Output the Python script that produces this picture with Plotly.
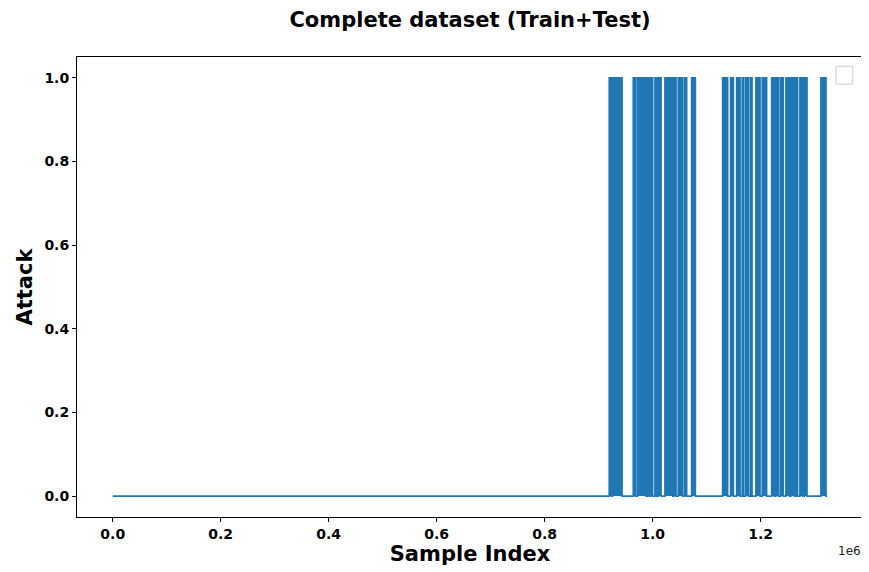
import plotly.graph_objects as go

# Attack intervals (sample index, start/end where Attack == 1)
attack_starts = [919600, 925900, 964100, 971500, 990700, 996300, 1004300, 1010400,
                 1022800, 1039400, 1047400, 1059300, 1072200,
                 1129600, 1144400, 1155600, 1165900, 1172200, 1181500, 1191300,
                 1203000, 1220400, 1228300, 1237000, 1246900, 1256100, 1265400,
                 1272800, 1280700, 1311700]
attack_ends = [923600, 943400, 968100, 987900, 994000, 1000100, 1007500, 1015700,
               1037100, 1043400, 1055700, 1063100, 1079200,
               1139000, 1149600, 1162000, 1168600, 1177900, 1184200, 1199000,
               1211200, 1225500, 1233400, 1242100, 1253300, 1262500, 1268600,
               1277900, 1286000, 1321200]
n_samples = 1323500

x_tick_vals = [0, 200000, 400000, 600000, 800000, 1000000, 1200000]
x_tick_text = ["0.0", "0.2", "0.4", "0.6", "0.8", "1.0", "1.2"]
y_tick_vals = [0.0, 0.2, 0.4, 0.6, 0.8, 1.0]
y_tick_text = ["0.0", "0.2", "0.4", "0.6", "0.8", "1.0"]

xs = [0]
ys = [0]
for s, e in zip(attack_starts, attack_ends):
    xs += [s, e]
    ys += [1, 0]
xs.append(n_samples)
ys.append(0)

fig = go.Figure()
fig.add_trace(go.Scatter(x=xs, y=ys, mode="lines", line=dict(color="#1f77b4", width=1.6, shape="hv"),
                         fill="tozeroy", fillcolor="#1f77b4",
                         showlegend=False, hoverinfo="skip"))

FONT = "DejaVu Sans"
span = n_samples
# page body has an 8px margin, so the figure is sized/offset to compensate
fig.update_layout(
    width=861, height=564,
    margin=dict(l=69, r=6, t=49, b=55),
    paper_bgcolor="white", plot_bgcolor="white",
    title=dict(text="<b>Complete dataset (Train+Test)</b>", x=0.5366, xanchor="center", y=0.979, yanchor="middle",
               font=dict(family=FONT, size=21, color="black")),
    font=dict(family=FONT, color="black"),
    xaxis=dict(range=[-0.05 * span, 1.05 * span], tickvals=x_tick_vals, ticktext=x_tick_text,
               automargin=False,
               showgrid=False, zeroline=False, showline=True, linecolor="black", linewidth=1, mirror=True,
               ticks="outside", ticklen=4, tickcolor="black",
               tickfont=dict(family=FONT, size=14, color="black", weight="bold"),
               title=dict(text="<b>Sample Index</b>", font=dict(family=FONT, size=21, color="black"), standoff=3)),
    yaxis=dict(range=[-0.05, 1.05], tickvals=y_tick_vals, ticktext=y_tick_text,
               automargin=False,
               showgrid=False, zeroline=False, showline=True, linecolor="black", linewidth=1, mirror=True,
               ticks="outside", ticklen=4, tickcolor="black",
               tickfont=dict(family=FONT, size=14, color="black", weight="bold"),
               title=dict(text="<b>Attack</b>", font=dict(family=FONT, size=21, color="black"), standoff=6)),
)

# exponent label "1e6"
fig.add_annotation(text="1e6", xref="paper", yref="paper", x=1.0, y=-0.055, xanchor="right", yanchor="top",
                   showarrow=False, font=dict(family=FONT, size=12, color="#222"))

# empty legend box
fig.add_shape(type="rect", xref="paper", yref="paper", x0=0.9656, x1=0.987, y0=0.941, y1=0.980,
              line=dict(color="#cccccc", width=1), fillcolor="white")

fig.write_html("out.html")
